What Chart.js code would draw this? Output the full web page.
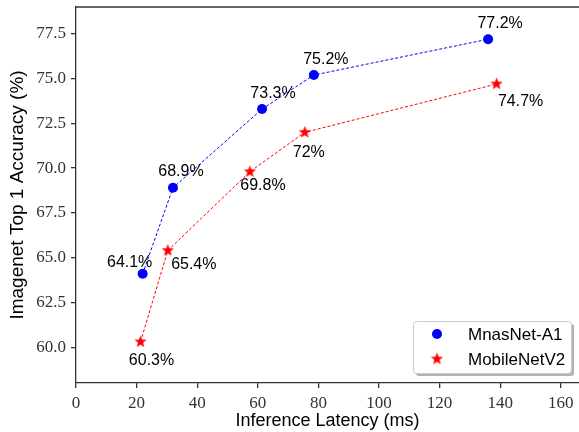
<!DOCTYPE html>
<html>
<head>
<meta charset="utf-8">
<script src="https://cdn.jsdelivr.net/npm/chart.js@4"></script>
<style>
html,body{margin:0;padding:0;background:#fff;}
#wrap{width:579px;height:432px;}
</style>
</head>
<body>
<div id="wrap"><canvas id="c" width="579" height="432"></canvas></div>
<script>
// ---- data ----
const seriesNames = ["MnasNet-A1", "MobileNetV2"];
const mnasLatency = [22.0, 32.0, 61.4, 78.5, 136.0];
const mnasAccuracy = [64.1, 68.9, 73.3, 75.2, 77.2];
const mobileLatency = [21.3, 30.3, 57.4, 75.5, 138.8];
const mobileAccuracy = [60.3, 65.4, 69.8, 72, 74.7];
const xTicks = [0, 20, 40, 60, 80, 100, 120, 140, 160];
const yTicks = [60.0, 62.5, 65.0, 67.5, 70.0, 72.5, 75.0, 77.5];

// label offsets (pixels) for annotations
const mnasLabelOffsets = [[-13,-11],[8,-16],[11,-15],[12,-15],[12,-16]];
const mobileLabelOffsets = [[11,19],[26,14],[13,14],[4,20],[24,18]];

function makeStar(color, R, r){
  const s = Math.ceil(R*2+4);
  const cv = document.createElement('canvas');
  cv.width = s; cv.height = s;
  const g = cv.getContext('2d');
  g.beginPath();
  for(let i=0;i<10;i++){
    const rad = i%2===0 ? R : r;
    const a = -Math.PI/2 + i*Math.PI/5;
    const px = s/2 + rad*Math.cos(a), py = s/2 + rad*Math.sin(a);
    if(i===0) g.moveTo(px,py); else g.lineTo(px,py);
  }
  g.closePath();
  g.fillStyle = color; g.fill();
  return cv;
}
const starImg = makeStar('#ff0000', 6.5, 2.7);

const toPts = (xs, ys) => xs.map((x,i)=>({x, y: ys[i]}));

const sansFont = "'Liberation Sans', Arial, sans-serif";
const serifFont = "'Liberation Serif', 'DejaVu Serif', serif";

const frameAndLabels = {
  id: 'frameAndLabels',
  afterDatasetsDraw(chart){
    const ctx = chart.ctx;
    const ca = chart.chartArea;
    ctx.save();
    ctx.strokeStyle = '#333';
    ctx.lineWidth = 1.3;
    ctx.beginPath();
    ctx.moveTo(ca.left, ca.top); ctx.lineTo(ca.right+2, ca.top);
    ctx.stroke();
    // data labels
    ctx.font = "16px " + sansFont;
    ctx.fillStyle = '#000';
    ctx.textAlign = 'center';
    ctx.textBaseline = 'middle';
    const offs = [mnasLabelOffsets, mobileLabelOffsets];
    chart.data.datasets.forEach((ds, di)=>{
      const meta = chart.getDatasetMeta(di);
      meta.data.forEach((el, i)=>{
        const v = ds.data[i].y;
        const o = offs[di][i];
        ctx.fillText(String(v) + '%', el.x + o[0], el.y + o[1]);
      });
    });
    // legend
    const lx = 413, ly = 321, lw = 158, lh = 52;
    ctx.fillStyle = 'rgba(0,0,0,0.3)';
    roundRect(ctx, lx+3, ly+3, lw, lh, 3); ctx.fill();
    ctx.fillStyle = '#fff';
    roundRect(ctx, lx, ly, lw, lh, 3); ctx.fill();
    ctx.strokeStyle = '#cccccc'; ctx.lineWidth = 1;
    roundRect(ctx, lx+0.5, ly+0.5, lw, lh, 3); ctx.stroke();
    ctx.font = "17px " + sansFont;
    ctx.textAlign = 'left';
    ctx.fillStyle = '#000';
    chart.data.datasets.forEach((ds, di)=>{
      const cy = ly + 13 + di*25;
      if(di===0){
        ctx.beginPath(); ctx.arc(437, cy, 5, 0, Math.PI*2);
        ctx.fillStyle = '#0000ff'; ctx.fill();
      } else {
        ctx.drawImage(starImg, 437 - starImg.width/2, cy - starImg.height/2);
      }
      ctx.fillStyle = '#000';
      ctx.fillText(ds.label, 468, cy+1);
    });
    ctx.restore();
  }
};
function roundRect(ctx,x,y,w,h,r){
  ctx.beginPath();
  ctx.moveTo(x+r,y); ctx.lineTo(x+w-r,y); ctx.quadraticCurveTo(x+w,y,x+w,y+r);
  ctx.lineTo(x+w,y+h-r); ctx.quadraticCurveTo(x+w,y+h,x+w-r,y+h);
  ctx.lineTo(x+r,y+h); ctx.quadraticCurveTo(x,y+h,x,y+h-r);
  ctx.lineTo(x,y+r); ctx.quadraticCurveTo(x,y,x+r,y); ctx.closePath();
}

function zeroPad(s){
  s.paddingLeft = 0; s.paddingRight = 0; s.paddingTop = 0; s.paddingBottom = 0;
}

new Chart(document.getElementById('c'), {
  type: 'scatter',
  data: {
    datasets: [
      {
        label: seriesNames[0],
        data: toPts(mnasLatency, mnasAccuracy),
        showLine: true,
        borderColor: '#0000ff',
        backgroundColor: '#0000ff',
        borderWidth: 1,
        borderDash: [3,2],
        pointStyle: 'circle',
        pointRadius: 5,
        pointBorderWidth: 0
      },
      {
        label: seriesNames[1],
        data: toPts(mobileLatency, mobileAccuracy),
        showLine: true,
        borderColor: '#ff0000',
        backgroundColor: '#ff0000',
        borderWidth: 1,
        borderDash: [3,2],
        pointStyle: starImg,
        pointRadius: 6,
        pointBorderWidth: 0
      }
    ]
  },
  options: {
    responsive: false,
    animation: false,
    layout: { autoPadding: false, padding: { top: 7, right: 0, left: 0, bottom: 0 } },
    plugins: { legend: { display: false }, tooltip: { enabled: false } },
    scales: {
      x: {
        type: 'linear', min: 0, max: 166,
        afterBuildTicks: s => { s.ticks = xTicks.map(v=>({value:v})); },
        afterFit: s => { s.height = 49; zeroPad(s); },
        grid: { display: true, drawOnChartArea: false, drawTicks: true, tickLength: 5, color: '#333', lineWidth: 1.3 },
        border: { display: true, color: '#333', width: 1.3 },
        ticks: { color: '#333', font: { family: serifFont, size: 17 }, padding: 5, maxRotation: 0, callback: v => String(v) },
        title: { display: true, text: 'Inference Latency (ms)', color: '#000', font: { family: sansFont, size: 18 }, padding: { top: 0, bottom: 0 } }
      },
      y: {
        type: 'linear', min: 58, max: 79,
        afterBuildTicks: s => { s.ticks = yTicks.map(v=>({value:v})); },
        afterFit: s => { s.width = 76; zeroPad(s); },
        grid: { display: true, drawOnChartArea: false, drawTicks: true, tickLength: 5, color: '#333', lineWidth: 1.3 },
        border: { display: true, color: '#333', width: 1.3 },
        ticks: { color: '#333', font: { family: serifFont, size: 17 }, padding: 5, callback: v => Number(v).toFixed(1) },
        title: { display: true, text: 'Imagenet Top 1 Accuracy (%)', color: '#000', font: { family: sansFont, size: 19 }, padding: { top: 6, bottom: 0 } }
      }
    }
  },
  plugins: [frameAndLabels]
});
</script>
</body>
</html>
